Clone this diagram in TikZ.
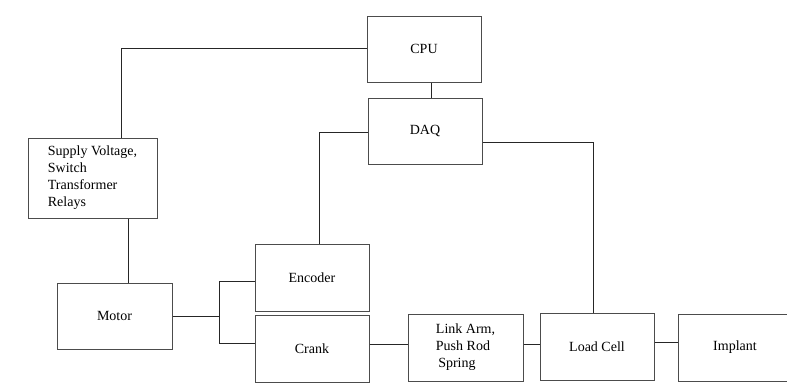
\documentclass[tikz,border=0pt]{standalone}
\usepackage{fontspec}
\setmainfont{Liberation Serif}
\usetikzlibrary{positioning, calc}

\begin{document}
\begin{tikzpicture}[
  x=1pt, y=-1pt,
  bloc/.style={draw=black!70, line width=1pt, minimum width=114pt,
               minimum height=66pt, inner sep=2pt,
               font=\fontsize{14}{17}\selectfont},
  lien/.style={draw=black!85, line width=0.8pt}
]
  \clip (0,0) rectangle (787,386);

  %=========================================================
  % 1. Blocs de commande
  %=========================================================
  \node[bloc] (cpu) at (424,49) {CPU};
  \node[bloc] (daq) at (425,131) {DAQ};
  \node[bloc, minimum width=129pt, minimum height=80pt, align=left]
    (supply) at (92.5,178)
    {Supply Voltage,\hspace{6pt}\\ Switch\\ Transformer\\ Relays};

  %=========================================================
  % 2. Chaine mecanique
  %=========================================================
  \node[bloc, minimum width=115pt] (motor) at (114.5,316) {Motor};
  \node[bloc, minimum height=67pt] (encoder) at (312,277.5) {Encoder};
  \node[bloc, minimum height=67pt] (crank) at (312,348.5) {Crank};
  \node[bloc, minimum width=115pt, minimum height=67pt, align=left]
    (link) at (465.5,347.5) {Link Arm,\\ Push Rod\\ \,Spring};
  \node[bloc, minimum height=67pt] (load) at (597,346.5) {Load Cell};
  \node[bloc, minimum height=67pt] (implant) at (735,347.5) {Implant};

  %=========================================================
  % 3. Liaisons
  %=========================================================
  \draw[lien] ([yshift=1]cpu.west) -| ([xshift=28.5]supply.north);
  \draw[lien] ([xshift=7]cpu.south) -- ([xshift=6]daq.north);
  \draw[lien] ([xshift=35.5]supply.south) -- ([xshift=13.5]motor.north);

  \coordinate (fork) at ([xshift=47]motor.east);
  \draw[lien] (motor.east) -- (fork);
  \draw[lien] ([yshift=-3.5]encoder.west) -| (fork) |- ([yshift=5.5]crank.west);

  \draw[lien] ([xshift=7]encoder.north) |- ([yshift=-1]daq.west);
  \draw[lien] ([yshift=-11]daq.east) -| ([xshift=-4]load.north);

  \draw[lien] ([yshift=4.5]crank.east) -- ([yshift=3.5]link.west);
  \draw[lien] ([yshift=3.5]link.east) -- ([yshift=2.5]load.west);
  \draw[lien] ([yshift=4.5]load.east) -- ([yshift=5.5]implant.west);

\end{tikzpicture}
\end{document}
